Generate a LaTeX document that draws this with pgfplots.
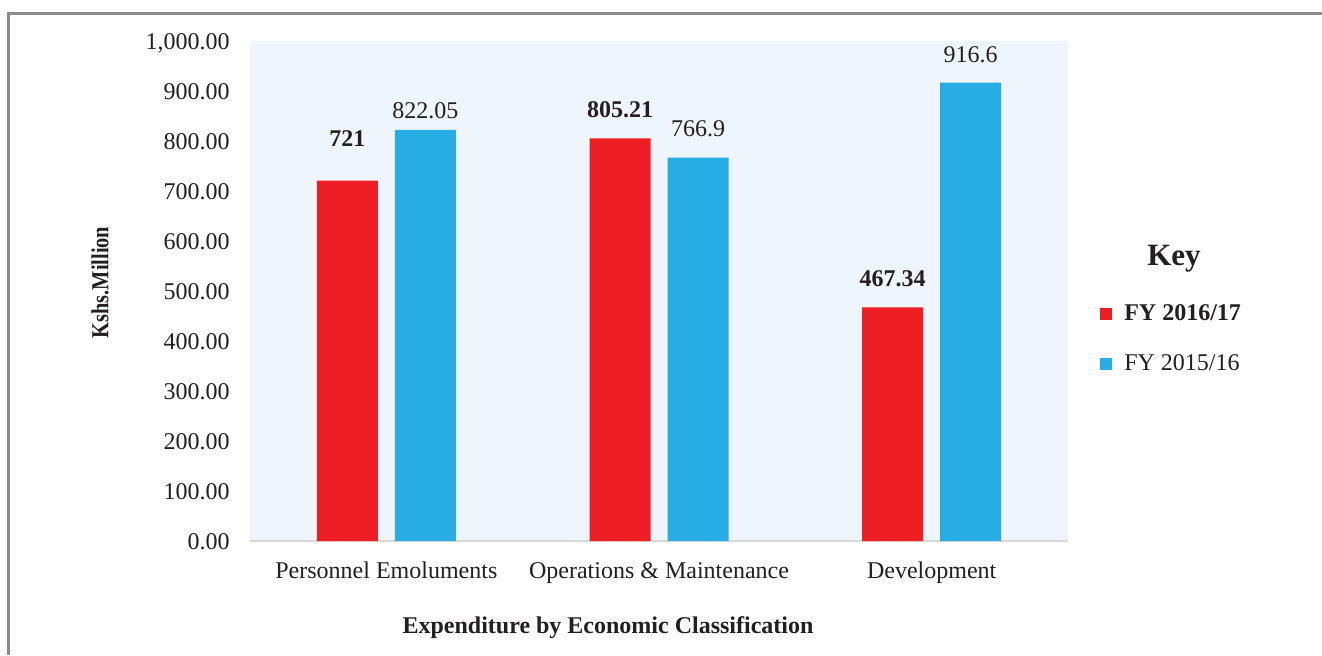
\documentclass[border=0pt]{standalone}
\usepackage{graphicx}
\usepackage{pgfplots}
\pgfplotsset{compat=1.18}
\usepackage{pgfplotstable}
\usepackage{fontspec}
\setmainfont{Liberation Serif}
\definecolor{fyred}{HTML}{ED1F24}
\definecolor{fyblue}{HTML}{27ADE3}
\definecolor{plotbg}{HTML}{EFF5FC}
\definecolor{txt}{HTML}{231F20}
\definecolor{frame}{HTML}{8C8C8C}
\pgfplotsset{sqlegend/.style={legend image code/.code={\fill[##1] (0pt,-3pt) rectangle (6pt,3pt);}}}

\pgfplotstableread{
x y lab off
0 721 721 17
1 805.21 805.21 10
2 467.34 467.34 10
}\redtab
\pgfplotstableread{
x y lab off
0 822.05 822.05 5.5
1 766.9 766.9 10
2 916.6 916.6 9.5
}\bluetab

\begin{document}
\begin{tikzpicture}
\useasboundingbox (0,0) rectangle (661pt,327.5pt);
\fill[white] (0,0) rectangle (661pt,327.5pt);
\begin{axis}[
  at={(125pt,57pt)}, anchor=south west,
  scale only axis, width=409pt, height=250pt,
  xmin=-0.5, xmax=2.5, ymin=0, ymax=1000,
  ybar=8.5pt, bar width=30.5pt,
  xtick={0,1,2},
  xticklabels={Personnel Emoluments, Operations \& Maintenance, Development},
  ytick={0,100,...,1000},
  /pgf/number format/assume math mode=true,
  y tick label style={/pgf/number format/fixed, /pgf/number format/fixed zerofill, /pgf/number format/precision=2, /pgf/number format/1000 sep={,}},
  scaled y ticks=false,
  major tick length=0pt,
  axis background/.style={fill=plotbg},
  separate axis lines,
  axis x line*=bottom, axis y line*=left,
  x axis line style={draw=black!15, line width=1pt, -},
  y axis line style={draw=none},
  yticklabel style={font=\fontsize{12}{14}\selectfont, text=txt, anchor=base east, inner sep=0pt, xshift=-10pt, yshift=-4.3pt},
  xticklabel style={font=\fontsize{12}{14}\selectfont, text=txt, anchor=base, inner sep=0pt, yshift=-18.5pt},
  xlabel={Expenditure by Economic Classification},
  xlabel style={at={(axis description cs:0.4377,-0.184)}, anchor=base, font=\fontsize{12}{14}\selectfont\bfseries, text=txt},
  ylabel={\scalebox{1}[1.2]{Kshs.Million}},
  ylabel style={at={(axis description cs:-0.1732,0.517)}, anchor=base, font=\fontsize{10.2}{12}\selectfont\bfseries, text=txt},
  legend cell align=left,
  legend style={draw=none, fill=none, at={(axis description cs:1.039,0.404)}, anchor=west, inner sep=0pt, row sep=16pt, font=\fontsize{12}{14}\selectfont, text=txt, nodes={inner sep=0pt}, /tikz/every odd column/.append style={column sep=6pt}},
  point meta=explicit symbolic,
  nodes near coords,
  visualization depends on={\thisrow{off}\as\myoff},
]
\addplot[fill=fyred, draw=none, sqlegend,
  nodes near coords style={anchor=south, inner sep=0pt, yshift=\myoff pt, font=\fontsize{12}{14}\selectfont\bfseries, text=txt}]
  table[x=x, y=y, meta=lab] {\redtab};
\addlegendentry{\textbf{FY 2016/17}}
\addplot[fill=fyblue, draw=none, sqlegend,
  nodes near coords style={anchor=south, inner sep=0pt, yshift=\myoff pt, font=\fontsize{12}{14}\selectfont, text=txt}]
  table[x=x, y=y, meta=lab] {\bluetab};
\addlegendentry{FY 2015/16}
\end{axis}
\node[anchor=base, font=\fontsize{15.5}{18}\selectfont\bfseries, text=txt] at (587pt,195pt) {Key};
\draw[frame, line width=1.1pt] (4.2pt,0pt) -- (4.2pt,320.75pt) -- (661pt,320.75pt);
\end{tikzpicture}
\end{document}
